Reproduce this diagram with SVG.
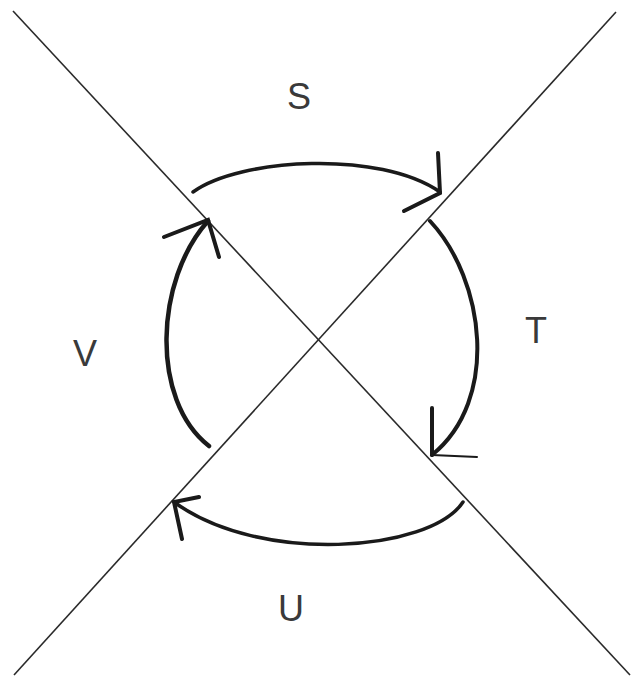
<svg xmlns="http://www.w3.org/2000/svg" width="637" height="683" viewBox="0 0 637 683">
<style>
.axis{stroke:#2a2a2a;stroke-width:1.6;fill:none}
.arc{stroke:#1a1a1a;stroke-width:3.5;fill:none;stroke-linecap:round}
.barb{stroke:#1a1a1a;stroke-width:4;fill:none;stroke-linecap:round}
.lbl{font-family:"Liberation Sans",Arial,sans-serif;font-size:36px;fill:#3a3a3a;text-anchor:middle}
</style>
<rect width="637" height="683" fill="#fff"/>
<g id="axes">
<line class="axis" x1="13" y1="11" x2="630" y2="675"/>
<line class="axis" x1="616" y1="12" x2="14" y2="675"/>
</g>
<g id="connectors">
<g id="arrow-S">
<path class="arc" d="M193,192 C240,158 380,150 440,192"/>
<path class="barb" d="M438,153 L440,193 L404,211"/>
</g>
<g id="arrow-T">
<path class="arc" d="M430,221 C485,280 500,400 432,455" style="stroke-width:4"/>
<path class="barb" d="M432,408 L432,455"/>
<path class="barb" d="M432,455 L477,457" style="stroke-width:2"/>
</g>
<g id="arrow-U">
<path class="arc" d="M463,502 C430,552 260,565 174,502"/>
<path class="barb" d="M199,497 L174,502 L182,539"/>
</g>
<g id="arrow-V">
<path class="arc" d="M209,446 C150,400 155,280 208,221" style="stroke-width:4.5"/>
<path class="barb" d="M164,237 L208,220 L219,257"/>
</g>
</g>
<g id="label-S"><text class="lbl" x="299" y="109">S</text></g>
<g id="label-T"><text class="lbl" x="536" y="343">T</text></g>
<g id="label-V"><text class="lbl" x="85" y="366">V</text></g>
<g id="label-U"><text class="lbl" x="291" y="621">U</text></g>
</svg>
